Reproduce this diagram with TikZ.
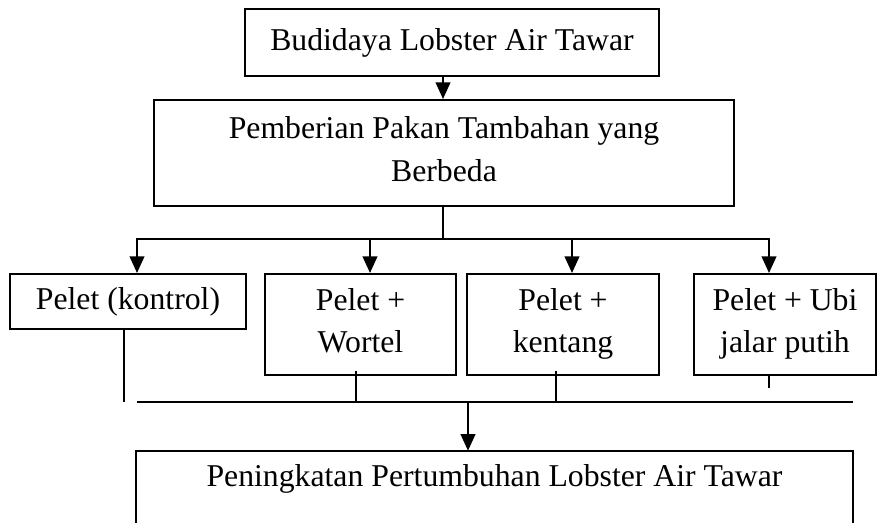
\documentclass[tikz,border=0pt]{standalone}
\usepackage{fontspec}
\setmainfont{Liberation Serif}
\usetikzlibrary{arrows.meta}
\newcommand{\bxstrut}{\rule[-6.7pt]{0pt}{24pt}}
\begin{document}
\begin{tikzpicture}[x=0.75pt,y=-0.75pt,
  box/.style={draw,line width=1.5pt,inner sep=0pt,align=center,font=\fontsize{23.8}{31.5}\selectfont},
  lbl/.style={inner sep=0pt,font=\fontsize{23.8}{31.5}\selectfont},
  conn/.style={line width=1.5pt},
  arr/.style={conn,-{Triangle[length=12.5pt,width=11pt]}}]
\useasboundingbox (0,0) rectangle (877,523);
% boxes
\node[box,minimum width=310.5pt,minimum height=50.25pt] (top) at (452,42.5) {Budidaya Lobster Air Tawar};
\node[box,minimum width=435pt,minimum height=79.5pt,font=\fontsize{23.8}{32.25}\selectfont] (mid) at (444,153) {\bxstrut Pemberian Pakan Tambahan yang\\\bxstrut Berbeda};
\node[box,minimum width=177pt,minimum height=41.25pt] (kontrol) at (128,301.5) {Pelet (kontrol)};
\node[box,minimum width=143.25pt,minimum height=75.75pt] (wortel) at (360.5,324.5) {\bxstrut Pelet +\\\bxstrut Wortel};
\node[box,minimum width=144pt,minimum height=75.75pt] (kentang) at (563,324.5) {\bxstrut Pelet +\\\bxstrut kentang};
\node[box,minimum width=136.5pt,minimum height=75.75pt] (ubi) at (785,324.5) {\bxstrut Pelet + Ubi\\\bxstrut jalar putih};
\node[inner sep=0pt,minimum width=537.75pt,minimum height=59.25pt] (hasil) at (494.5,490.5) {};
\draw[conn] (hasil.south west) -- (hasil.north west) -- (hasil.north east) -- (hasil.south east);
\node[lbl] (hasiltxt) at (494.5,479) {Peningkatan Pertumbuhan Lobster Air Tawar};
% coordinates
\coordinate (xa) at (443,0);
\coordinate (br) at (443,239);
\coordinate (bl) at (137,239);
\coordinate (b2) at (370,239);
\coordinate (b3) at (572,239);
\coordinate (brr) at (769,239);
\coordinate (k1) at (124,402);
\coordinate (cl) at (137,402);
\coordinate (c2) at (356,402);
\coordinate (cm) at (468,402);
\coordinate (c3) at (556,402);
\coordinate (cr) at (853,402);
\coordinate (c4) at (769,388);
% connectors top
\draw[arr] (top.south -| xa) -- (mid.north -| xa);
\draw[conn] (mid.south -| xa) -- (br);
\draw[conn,line cap=rect] (bl) -- (brr);
\draw[arr] (bl) -- (bl |- kontrol.north);
\draw[arr] (b2) -- (b2 |- wortel.north);
\draw[arr] (b3) -- (b3 |- kentang.north);
\draw[arr] (brr) -- (brr |- ubi.north);
% connectors bottom
\draw[conn] (kontrol.south -| k1) -- (k1);
\draw[conn] (cl) -- (cr);
\draw[conn] ([yshift=3.75pt]wortel.south -| c2) -- (c2);
\draw[conn] ([yshift=3.75pt]kentang.south -| c3) -- (c3);
\draw[conn] (ubi.south -| c4) -- (c4);
\draw[arr] (cm) -- (cm |- hasil.north);
\end{tikzpicture}
\end{document}
